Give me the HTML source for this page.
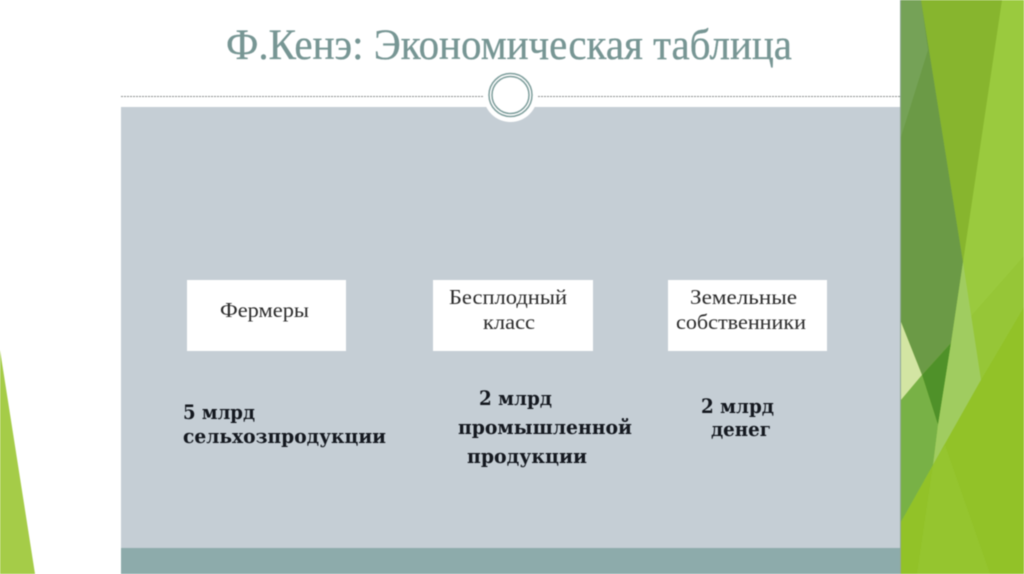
<!DOCTYPE html>
<html><head><meta charset="utf-8">
<style>
html,body{margin:0;padding:0;width:1024px;height:574px;overflow:hidden;background:#fff}
svg{display:block;filter:blur(0.4px)}
text{font-family:"Liberation Serif","DejaVu Serif",serif}
.b{font-weight:bold;fill:#14181f;font-size:20px;font-family:"DejaVu Serif","Liberation Serif",serif}
.n{fill:#2b2b2b;font-size:21px}
</style></head><body>
<svg width="1024" height="574" viewBox="0 0 1024 574" xmlns="http://www.w3.org/2000/svg">
<rect width="1024" height="574" fill="#fff"/>
<polygon points="0,350 35,574 0,574" fill="#a5cc48"/>
<rect x="121" y="107" width="780" height="441" fill="#c5ced5"/>
<rect x="121" y="548" width="780" height="26" fill="#8dabab"/>
<line x1="121" y1="96.500" x2="901" y2="96.500" stroke="#8b9090" stroke-width="1" stroke-dasharray="2 1"/>
<circle cx="510.500" cy="95" r="27" fill="#fff"/>
<circle cx="510.500" cy="95" r="21.500" fill="none" stroke="#7e9e9c" stroke-width="1.500"/>
<circle cx="510.500" cy="95" r="18.500" fill="#fff" stroke="#7e9e9c" stroke-width="1.500"/>
<text x="226" y="59" font-size="43" fill="#779694" stroke="#779694" stroke-width="0.300" textLength="566" lengthAdjust="spacingAndGlyphs">Ф.Кенэ: Экономическая таблица</text>
<rect x="187" y="280" width="159" height="71" fill="#fff"/>
<rect x="433" y="280" width="160" height="71" fill="#fff"/>
<rect x="668" y="280" width="159" height="71" fill="#fff"/>
<text class="n" x="220" y="317" textLength="89" lengthAdjust="spacingAndGlyphs">Фермеры</text>
<text class="n" x="449" y="304" textLength="118" lengthAdjust="spacingAndGlyphs">Бесплодный</text>
<text class="n" x="483" y="329" textLength="52" lengthAdjust="spacingAndGlyphs">класс</text>
<text class="n" x="690" y="304" textLength="107" lengthAdjust="spacingAndGlyphs">Земельные</text>
<text class="n" x="676" y="329" textLength="130" lengthAdjust="spacingAndGlyphs">собственники</text>
<text class="b" x="183" y="419" textLength="72" lengthAdjust="spacingAndGlyphs">5 млрд</text>
<text class="b" x="183" y="443" textLength="203" lengthAdjust="spacingAndGlyphs">сельхозпродукции</text>
<text class="b" x="479" y="405" textLength="73" lengthAdjust="spacingAndGlyphs">2 млрд</text>
<text class="b" x="458" y="434" textLength="174" lengthAdjust="spacingAndGlyphs">промышленной</text>
<text class="b" x="467" y="463" textLength="120" lengthAdjust="spacingAndGlyphs">продукции</text>
<text class="b" x="701" y="413" textLength="73" lengthAdjust="spacingAndGlyphs">2 млрд</text>
<text class="b" x="711" y="436" textLength="60" lengthAdjust="spacingAndGlyphs">денег</text>
<rect x="901" width="123" height="574" fill="#9aca3e"/>
<polygon points="972,315 1024,256 1024,574 901,574" fill="#96c637"/>
<polygon points="921,0 1002,0 963,262" fill="#87b52e"/>
<polygon points="901,0 921,0 963,262 951,343 922,375 901,322" fill="#6b9a46"/>
<polygon points="901,0 921,0 928,50 901,137" fill="#75a257"/>
<polygon points="901,322 922,375 901,400" fill="#d3e5a3"/>
<polygon points="951,343 922,375 938,425" fill="#4f9129"/>
<polygon points="901,400 922,375 938,425 933,465 901,522" fill="#78b146"/>
<polygon points="963,262 981,380 933,465 938,425 951,343" fill="#a0cc60"/>
<polygon points="901,522 933,465 981,380 1024,307 1024,574 901,574" fill="#92c228"/>
<polygon points="917,574 933,465 945,445 990,574" fill="#95c52f"/>
<rect x="900" width="1" height="574" fill="#8fa895"/>
</svg>
</body></html>
